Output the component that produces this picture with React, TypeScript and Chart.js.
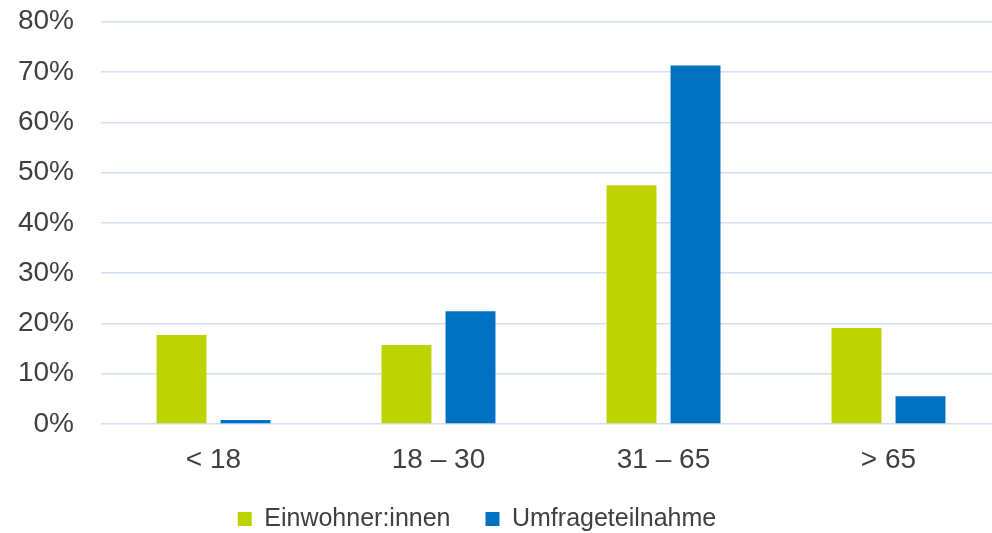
import React, { useEffect, useRef } from "react";
import { Chart, registerables } from "chart.js";

Chart.register(...registerables);

const categories = ["< 18", "18 – 30", "31 – 65", "> 65"];
const einwohner = [17.7, 15.7, 47.5, 19.1];
const umfrage = [0.8, 22.4, 71.3, 5.5];
const seriesNames = ["Einwohner:innen", "Umfrageteilnahme"];

const FONT = "'Liberation Sans', Arial, sans-serif";
const TEXT = "#404040";

export default function App() {
  const ref = useRef<HTMLCanvasElement | null>(null);

  useEffect(() => {
    if (!ref.current) return;
    const shiftLegend = {
      id: "shiftLegend",
      afterLayout(chart: any) {
        const l = chart.legend;
        if (l) {
          l.left -= 23.5;
          l.right -= 23.5;
          l.top -= 22.5;
          l.bottom = 533;
        }
      },
    };
    const chart = new Chart(ref.current, {
      type: "bar",
      data: {
        labels: categories,
        datasets: [
          {
            label: seriesNames[0],
            data: einwohner,
            backgroundColor: "#bdd300",
            categoryPercentage: 0.569,
            barPercentage: 0.78,
          },
          {
            label: seriesNames[1],
            data: umfrage,
            backgroundColor: "#0070c0",
            categoryPercentage: 0.569,
            barPercentage: 0.78,
          },
        ],
      },
      options: {
        responsive: false,
        animation: false,
        layout: { padding: { top: 21.7, left: 0, right: 0, bottom: 0 } },
        scales: {
          x: {
            grid: { display: false },
            border: { display: false },
            ticks: {
              font: { family: FONT, size: 28 },
              color: TEXT,
              padding: 11.5,
              maxRotation: 0,
            },
            afterFit(scale: any) {
              scale.height = 70;
            },
          },
          y: {
            min: 0,
            max: 80,
            grid: {
              color: "#d6ddf5",
              lineWidth: 1.4,
              drawTicks: true,
              tickLength: 27,
              tickColor: "rgba(0,0,0,0)",
            },
            border: { display: false },
            ticks: {
              stepSize: 10,
              font: { family: FONT, size: 28 },
              color: TEXT,
              padding: 0,
              callback: (v: any) => v + "%",
            },
            afterFit(scale: any) {
              scale.width = 101;
            },
          },
        },
        plugins: {
          legend: {
            position: "bottom",
            maxHeight: 39,
            labels: {
              font: { family: FONT, size: 25 },
              color: TEXT,
              boxWidth: 14,
              boxHeight: 14,
              padding: 35,
            },
          },
          tooltip: { enabled: false },
        },
      },
      plugins: [shiftLegend],
    } as any);
    return () => chart.destroy();
  }, []);

  return (
    <div
      style={{
        position: "absolute",
        left: 0,
        top: 0,
        width: 992,
        height: 533,
        overflow: "hidden",
        background: "#fff",
      }}
    >
      <canvas ref={ref} width={1001} height={533} style={{ display: "block" }} />
    </div>
  );
}
